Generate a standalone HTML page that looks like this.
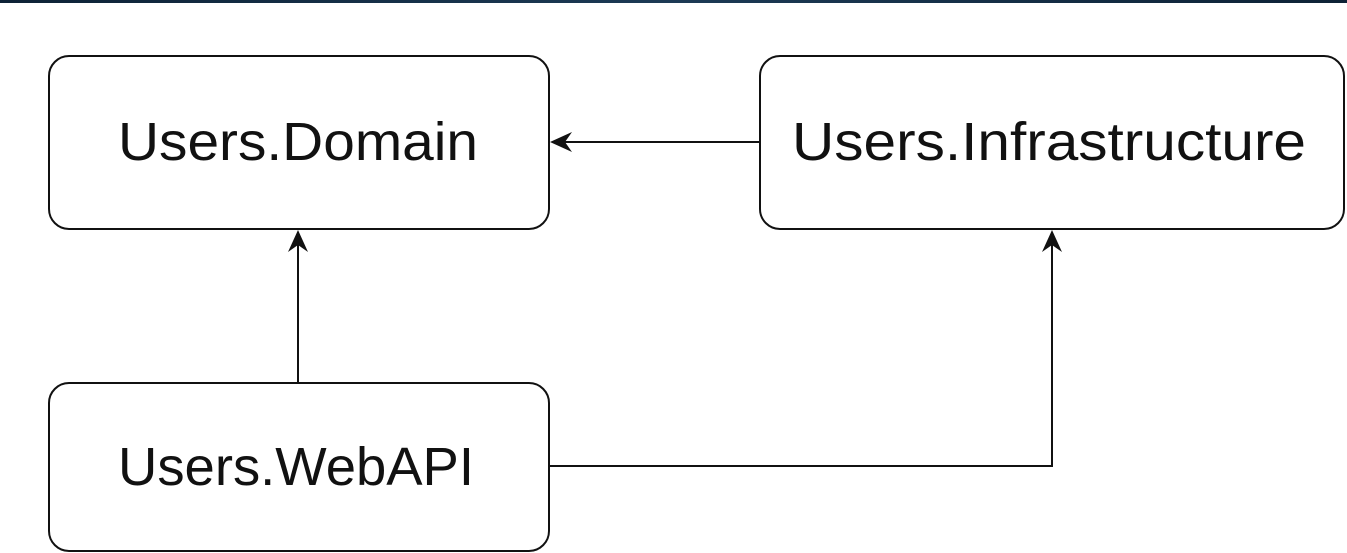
<!DOCTYPE html>
<html><head><style>
html,body{margin:0;padding:0;background:#fff;width:1347px;height:553px;overflow:hidden}
</style></head><body>
<svg width="1347" height="553" xmlns="http://www.w3.org/2000/svg">
<defs><linearGradient id="g" x1="0" x2="1"><stop offset="0" stop-color="#0d2236"/><stop offset="0.5" stop-color="#1c3a55"/><stop offset="1" stop-color="#0d2236"/></linearGradient></defs>
<rect x="0" y="0" width="1347" height="3" fill="url(#g)"/>
<g fill="#fff" stroke="#111" stroke-width="2">
<rect x="49" y="56" width="500" height="173" rx="20"/>
<rect x="760" y="56" width="584" height="173" rx="20"/>
<rect x="49" y="383" width="500" height="168" rx="20"/>
</g>
<g stroke="#111" stroke-width="2" fill="none">
<line x1="759" y1="142" x2="556" y2="142"/>
<line x1="298" y1="382" x2="298" y2="236"/>
<polyline points="549,466 1052,466 1052,236"/>
</g>
<g fill="#111">
<polygon points="550,142 572,132 565,142 572,152"/>
<polygon points="298,230 288,252 298,245 308,252"/>
<polygon points="1052,230 1042,252 1052,245 1062,252"/>
</g>
<g font-family="Liberation Sans, DejaVu Sans, sans-serif" font-size="54" fill="#111" text-anchor="middle">
<text x="298" y="160" textLength="360" lengthAdjust="spacingAndGlyphs">Users.Domain</text>
<text x="1049" y="160" textLength="514" lengthAdjust="spacingAndGlyphs">Users.Infrastructure</text>
<text x="296" y="485" textLength="356" lengthAdjust="spacingAndGlyphs">Users.WebAPI</text>
</g>
</svg>
</body></html>
